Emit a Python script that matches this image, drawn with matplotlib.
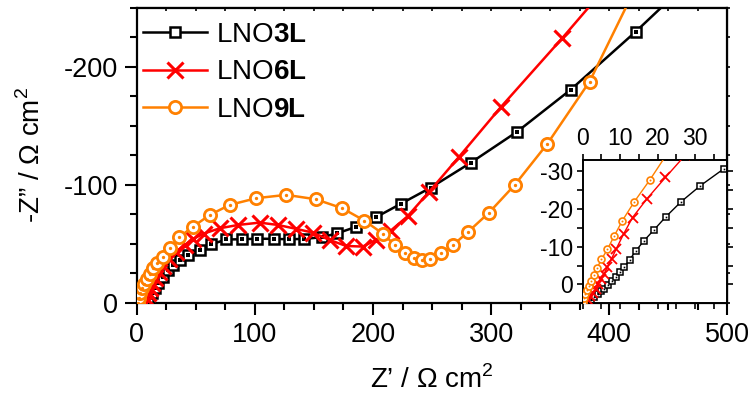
import matplotlib.pyplot as plt
from matplotlib.ticker import MultipleLocator, FuncFormatter

plt.rcParams["font.family"] = ["Liberation Sans", "DejaVu Sans"]
plt.rcParams["mathtext.fontset"] = "custom"
plt.rcParams["mathtext.rm"] = "Liberation Sans"
plt.rcParams["mathtext.bf"] = "Liberation Sans:bold"

BLACK = "#000000"
RED = "#ff0000"
ORANGE = "#ff8000"

# main Nyquist plot (Z', -Z'' in ohm cm2)
lno3_x = [6, 7.5, 9.7, 12.6, 15.4, 18.2, 22.4, 26.6, 30.8, 36.5, 43.5, 53.4, 63.2,
          75.9, 89, 102, 115.9, 128.8, 141.5, 156.7, 169.9, 185.4, 202.6, 223.7,
          249, 282.9, 322.2, 367.3, 422.3, 460]
lno3_y = [0, 1.5, 3.7, 8, 12.2, 16.4, 22, 27.7, 32, 36.2, 40.4, 44.7, 49.5,
          53.5, 53.7, 54.2, 54, 53.7, 54, 55.4, 58.8, 64.1, 72.4, 83.8,
          97.5, 118.6, 144.9, 180.3, 229.4, 265]

lno6_x = [7, 8, 9.5, 11, 13, 15.5, 18.5, 22, 27, 33, 40.7, 47.7, 56.7, 70.3,
          85.7, 104, 119.5, 135, 149, 163.2, 177.3, 191.3, 202.6, 215, 229.3,
          247.6, 273, 308.2, 360.2, 410]
lno6_y = [0, 4, 8, 12, 16.5, 21, 26, 31, 37, 43, 49, 54, 58.5, 63,
          65.8, 67.8, 65.8, 62.5, 59.3, 53.1, 48, 47.5, 53.1, 61, 73.2,
          94, 123.7, 165.6, 224, 282]

lno9_x = [1, 2, 3, 4.5, 6, 8.4, 11, 14, 17.5, 22, 28, 35.9, 47.7, 61.8, 78.7,
          101.3, 126.6, 151.4, 173.9, 192.7, 208.2, 218.4, 227, 235, 241.5,
          248.2, 257.5, 267.9, 280.8, 298.3, 320, 347.6, 383.4, 420]
lno9_y = [0, 4, 8, 12, 16, 20, 24.5, 29, 33.5, 39, 46, 55.4, 64.4, 74.3, 82.8,
          88.5, 91.3, 87.6, 80, 69.5, 58.5, 48.9, 41.9, 37.6, 35.8,
          37, 41.9, 48.9, 60.2, 76.3, 99.7, 134.5, 187.3, 262]

# inset (high-frequency zoom)
in3_x = [1.3, 2.2, 3.1, 4, 4.9, 5.8, 6.7, 7.7, 8.8, 10, 11.1, 12.5, 14.2, 16.3,
         19, 22.2, 26.3, 31.4, 37.7]
in3_y = [-4.7, -4, -3.3, -2.6, -1.8, -1.1, -0.2, 0.8, 1.9, 3.2, 4.5, 6.5, 8.9,
         11.5, 14.4, 17.9, 21.9, 26.1, 30.6]

in6_x = [0.8, 1.4, 2, 2.8, 3.5, 4.2, 4.9, 5.7, 6.6, 7.7, 9, 10.9, 13.3, 17.2,
         22.1, 27.3]
in6_y = [-4.8, -4, -3.1, -2.2, -1.1, 0.1, 1.4, 2.8, 4.6, 6.8, 9.5, 13.3, 17.7,
         22.7, 28.3, 34.1]

in9_x = [0.2, 0.4, 0.7, 1.1, 1.6, 2.2, 2.9, 3.8, 5, 6.6, 8.4, 10.6, 13.8, 17.9,
         22.5]
in9_y = [-4.7, -3.7, -2.6, -1.5, -0.4, 1, 2.5, 4.3, 6.6, 9.3, 12.8, 16.9, 21.9,
         27.6, 34.5]

LABELS = [r"LNO$\mathbf{3L}$", r"LNO$\mathbf{6L}$", r"LNO$\mathbf{9L}$"]


def neg_fmt(v, pos):
    v = int(round(v))
    return "0" if v == 0 else f"-{v}"


def dotted(ax, x, y, marker, color, ms, mew, lw, dot, label=None, z=2):
    # open marker with a small filled dot in the middle
    ax.plot(x, y, color=color, lw=lw, marker=marker, ms=ms, mew=mew,
            mfc="white", mec=color, label=label, zorder=z)
    ax.plot(x, y, ls="none", marker=marker, ms=dot, mfc=color, mec=color,
            mew=0, zorder=z)


fig = plt.figure(figsize=(7.53, 4.03), dpi=100)
ax = fig.add_axes([136.8 / 753, 1 - 303 / 403, 590.5 / 753, 295.5 / 403])

dotted(ax, lno3_x, lno3_y, "s", BLACK, 7.3, 1.8, 1.8, 2.2, LABELS[0], z=2)
ax.plot(lno6_x, lno6_y, color=RED, lw=1.8, marker="x", ms=11, mew=2.2,
        label=LABELS[1], zorder=3)
dotted(ax, lno9_x, lno9_y, "o", ORANGE, 8.8, 2.0, 1.8, 2.4, LABELS[2], z=4)

ax.set_xlim(0, 500)
ax.set_ylim(-0.3, 250)
ax.xaxis.set_major_locator(MultipleLocator(100))
ax.xaxis.set_minor_locator(MultipleLocator(25))
ax.yaxis.set_major_locator(MultipleLocator(100))
ax.yaxis.set_minor_locator(MultipleLocator(25))
ax.yaxis.set_major_formatter(FuncFormatter(neg_fmt))
ax.tick_params(axis="both", which="both", direction="out", width=1.5,
               labelsize=19.5, pad=5)
ax.tick_params(which="major", length=8.5)
ax.tick_params(which="minor", length=5)

# mirrored ticks: short and inward on top, small stubs outward on the right
sx = ax.secondary_xaxis("top")
sx.set_xticks(range(0, 501, 25))
sx.tick_params(direction="in", length=3, width=1.2, labeltop=False)
sy = ax.secondary_yaxis("right")
sy.set_yticks(range(0, 251, 25))
sy.tick_params(direction="out", length=2.5, width=1.2, labelright=False)
for sp in ax.spines.values():
    sp.set_linewidth(1.6)
ax.set_xlabel(r"Z’ / Ω cm$^2$", fontsize=20, labelpad=13)
ax.set_ylabel(r"-Z” / Ω cm$^2$", fontsize=20, labelpad=13)

ax.legend(loc="upper left", bbox_to_anchor=(0.01, 0.952), frameon=False,
          fontsize=20, borderpad=0, borderaxespad=0, handlelength=2.3,
          handletextpad=0.35, labelspacing=0.42)

# inset
ins = fig.add_axes([582.7 / 753, 1 - 303 / 403, 144.6 / 753, 143 / 403])
ins.set_zorder(5)
dotted(ins, in3_x, in3_y, "s", BLACK, 4.2, 1.1, 1.0, 1.2, z=2)
ins.plot(in6_x, in6_y, color=RED, lw=1.0, marker="x", ms=6.5, mew=1.3, zorder=3)
dotted(ins, in9_x, in9_y, "o", ORANGE, 5, 1.2, 1.0, 1.4, z=4)
ins.set_xlim(0, 38.6)
ins.set_ylim(-4.9, 32.9)
ins.xaxis.set_major_locator(MultipleLocator(10))
ins.xaxis.set_minor_locator(MultipleLocator(5))
ins.yaxis.set_major_locator(MultipleLocator(10))
ins.yaxis.set_minor_locator(MultipleLocator(5))
ins.yaxis.set_major_formatter(FuncFormatter(neg_fmt))
ins.xaxis.tick_top()
ins.tick_params(axis="both", which="both", direction="out", width=1.2,
                labelsize=16.5, pad=3, length=4)
ins.tick_params(axis="x", which="both", bottom=True, labelbottom=False)
ins.tick_params(axis="y", which="both", right=True)
for sp in ins.spines.values():
    sp.set_linewidth(1.4)

fig.savefig("out.png", dpi=100)
